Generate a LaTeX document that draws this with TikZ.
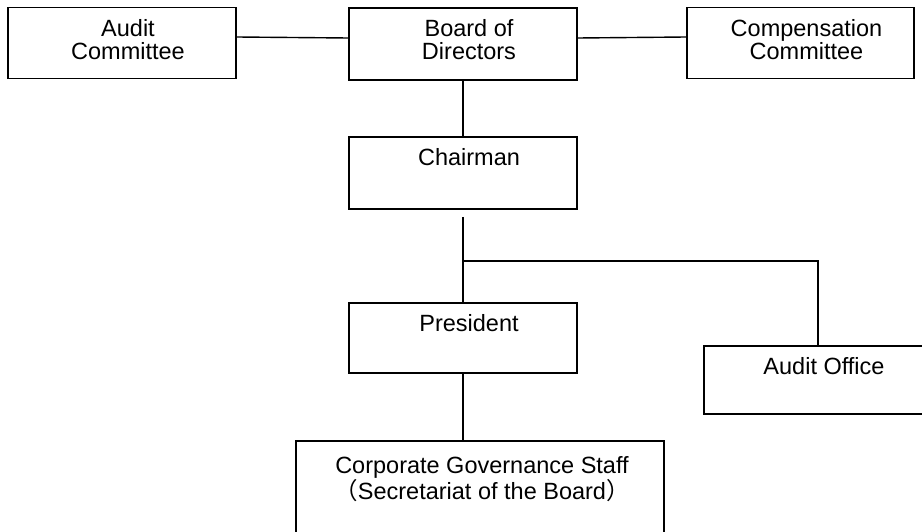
\documentclass[tikz,border=0pt]{standalone}
\usepackage{fontspec}
\setmainfont{Liberation Sans}
\newfontfamily\cjk{Noto Sans CJK JP}

\begin{document}
\begin{tikzpicture}[x=1pt, y=-1pt,
  box/.style={draw, line width=1.6pt, minimum width=228pt,
    minimum height=71pt, inner sep=0pt},
  txt/.style={font=\fontsize{23.5}{23}\selectfont, align=center,
    inner sep=0pt, anchor=north, xshift=6pt, yshift=-12.5pt},
  conn/.style={line width=1.4pt}
]
  \path[use as bounding box, clip] (0,0) rectangle (922,532);

  % top row
  \node[box, label={[txt]north:{Audit\\Committee}}]        (audit) at (122,43)   {};
  \node[box, minimum height=72pt,
        label={[txt]north:{Board of\\Directors}}]          (board) at (463,44)   {};
  \node[box, minimum width=227pt,
        label={[txt]north:{Compensation\\Committee}}]      (comp)  at (800.5,43) {};

  % line of command
  \node[box, minimum height=72pt, label={[txt]north:Chairman}]  (chair)  at (463,173) {};
  \node[box, minimum height=70pt, label={[txt]north:President}] (pres)   at (463,338) {};
  \node[box, minimum height=68pt, label={[txt]north:Audit Office}] (office) at (818,380) {};
  \node[box, minimum width=368pt, minimum height=120pt,
        label={[txt, xshift=-4pt, yshift=-4pt]north:{Corporate Governance Staff\\{\cjk （}Secretariat of the Board{\cjk ）}}}]
        (cgs) at (480,501) {};

  \coordinate (jn) at (463,261);

  \draw[conn] ([yshift=6pt]audit.east) -- ([yshift=6pt]board.west);
  \draw[conn] ([yshift=6pt]board.east) -- ([yshift=6pt]comp.west);
  \draw[conn] (board.south) -- (chair.north);
  \draw[conn] ([yshift=-7pt]chair.south) -- (pres.north);
  \draw[conn] (jn) -| (office.north);
  \draw[conn] (pres.south) -- (pres.south |- cgs.north);
\end{tikzpicture}
\end{document}
